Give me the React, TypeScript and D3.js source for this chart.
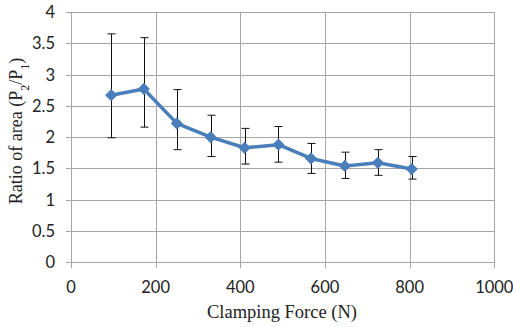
import React, { useEffect, useRef } from 'react';
import * as d3 from 'd3';

const force = [95, 172, 250, 330, 410, 490, 567, 647, 725, 805];
const ratio = [2.67, 2.77, 2.22, 2.0, 1.83, 1.88, 1.66, 1.54, 1.59, 1.49];
const errUpper = [3.65, 3.59, 2.76, 2.35, 2.14, 2.17, 1.9, 1.76, 1.8, 1.69];
const errLower = [1.99, 2.16, 1.8, 1.69, 1.57, 1.6, 1.42, 1.34, 1.39, 1.33];
const xTicks = [0, 200, 400, 600, 800, 1000];
const yTicks = [0, 0.5, 1, 1.5, 2, 2.5, 3, 3.5, 4];

const W = 513;
const H = 327;

const App: React.FC = () => {
  const svgRef = useRef<SVGSVGElement>(null);

  useEffect(() => {
    if (!svgRef.current) return;
    const svg = d3.select(svgRef.current);
    svg.selectAll('*').remove();

    const x = d3.scaleLinear().domain([0, 1000]).range([71, 494.3]);
    const y = d3.scaleLinear().domain([0, 4]).range([262.3, 12]);
    const grid = '#a6a6a6';
    const tickFont = 'Lato, "Open Sans", sans-serif';
    const titleFont = '"Liberation Serif", "Times New Roman", serif';

    // horizontal gridlines + left ticks
    svg.append('g').selectAll('line')
      .data(yTicks).enter().append('line')
      .attr('x1', x(0) - 5).attr('x2', x(1000))
      .attr('y1', d => Math.round(y(d)) + 0.5).attr('y2', d => Math.round(y(d)) + 0.5)
      .attr('stroke', grid).attr('stroke-width', 1);

    // vertical gridlines + bottom ticks
    svg.append('g').selectAll('line')
      .data(xTicks).enter().append('line')
      .attr('x1', d => Math.round(x(d)) + 0.5).attr('x2', d => Math.round(x(d)) + 0.5)
      .attr('y1', y(4)).attr('y2', y(0) + 6)
      .attr('stroke', grid).attr('stroke-width', 1);

    svg.append('g').selectAll('text')
      .data(yTicks).enter().append('text')
      .attr('x', 55).attr('y', d => y(d) + 6)
      .attr('text-anchor', 'end')
      .style('font-family', tickFont).style('font-size', '16.5px').style('fill', '#222')
      .text(d => String(d));

    svg.append('g').selectAll('text')
      .data(xTicks).enter().append('text')
      .attr('x', d => x(d)).attr('y', 293)
      .attr('text-anchor', 'middle')
      .style('font-family', tickFont).style('font-size', '16.5px').style('fill', '#222')
      .text(d => String(d));

    // axis titles
    svg.append('text')
      .attr('x', 282).attr('y', 318)
      .attr('text-anchor', 'middle')
      .style('font-family', titleFont).style('font-size', '18.5px').style('fill', '#222')
      .text('Clamping Force (N)');

    const yt = svg.append('text')
      .attr('transform', `translate(22, 131) rotate(-90)`)
      .attr('text-anchor', 'middle')
      .style('font-family', titleFont).style('font-size', '18px').style('fill', '#222');
    yt.append('tspan').text('Ratio of area (P');
    yt.append('tspan').attr('baseline-shift', 'sub').style('font-size', '12px').text('2');
    yt.append('tspan').text('/P');
    yt.append('tspan').attr('baseline-shift', 'sub').style('font-size', '12px').text('1');
    yt.append('tspan').text(')');

    // error bars
    const eb = svg.append('g').attr('stroke', '#111').attr('stroke-width', 1);
    force.forEach((f, i) => {
      const cx = Math.round(x(f)) + 0.5;
      eb.append('line').attr('x1', cx).attr('x2', cx).attr('y1', y(errUpper[i])).attr('y2', y(errLower[i]));
      eb.append('line').attr('x1', cx - 4).attr('x2', cx + 4).attr('y1', y(errUpper[i])).attr('y2', y(errUpper[i]));
      eb.append('line').attr('x1', cx - 4).attr('x2', cx + 4).attr('y1', y(errLower[i])).attr('y2', y(errLower[i]));
    });

    const line = d3.line<number>()
      .x((_, i) => x(force[i]))
      .y(d => y(d));

    svg.append('path')
      .datum(ratio)
      .attr('d', line)
      .attr('fill', 'none')
      .attr('stroke', '#4a7ebb')
      .attr('stroke-width', 3.5)
      .attr('stroke-linejoin', 'round');

    const sym = d3.symbol().type(d3.symbolDiamond2).size(95);
    svg.append('g').selectAll('path')
      .data(ratio).enter().append('path')
      .attr('d', sym as any)
      .attr('transform', (d, i) => `translate(${x(force[i])}, ${y(d)})`)
      .attr('fill', '#4a7ebb');
  }, []);

  return (
    <svg
      ref={svgRef}
      width={W}
      height={H}
      style={{ position: 'absolute', left: 0, top: 0, background: '#fff' }}
    />
  );
};

export default App;
